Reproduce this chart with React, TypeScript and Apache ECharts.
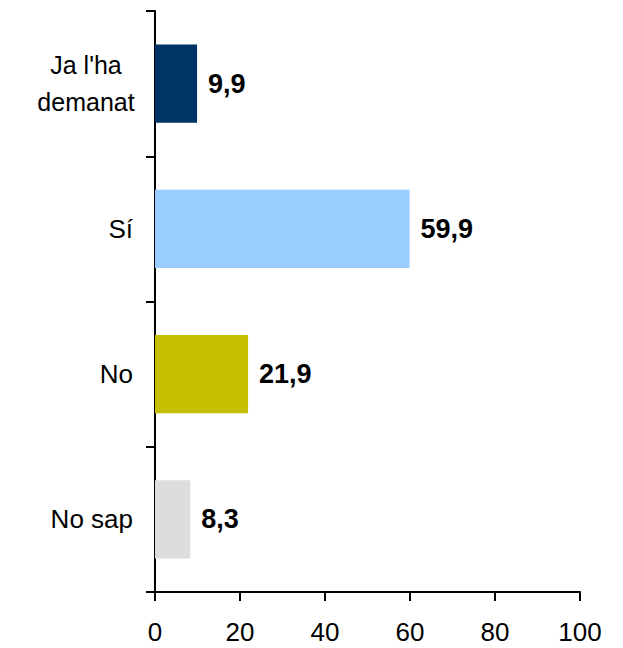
import React, { useEffect, useRef } from "react";
import * as echarts from "echarts";

const categories = ["Ja l'ha demanat", "Sí", "No", "No sap"];
const values = [9.9, 59.9, 21.9, 8.3];
const colors = ["#003366", "#99ccff", "#c4c000", "#dddddd"];
const xTicks = [0, 20, 40, 60, 80, 100];

export default function App() {
  const ref = useRef<HTMLDivElement>(null);
  useEffect(() => {
    document.body.style.margin = "0";
    const chart = echarts.init(ref.current!, null, { renderer: "svg" });
    const font = "'Liberation Sans', Arial, sans-serif";
    chart.setOption({
      animation: false,
      grid: { left: 155, right: 43, top: 11, bottom: 56, containLabel: false },
      xAxis: {
        type: "value",
        min: xTicks[0],
        max: xTicks[xTicks.length - 1],
        interval: 20,
        splitLine: { show: false },
        axisLine: { show: true, lineStyle: { color: "#000", width: 2 } },
        axisTick: { show: true, length: 9, lineStyle: { color: "#000", width: 2 } },
        axisLabel: { color: "#000", fontFamily: font, fontSize: 26, margin: 27 },
      },
      yAxis: {
        type: "category",
        inverse: true,
        data: categories,
        axisLine: { show: true, lineStyle: { color: "#000", width: 2 } },
        axisTick: { show: true, length: 9, lineStyle: { color: "#000", width: 2 } },
        axisLabel: {
          color: "#000",
          fontFamily: font,
          fontSize: 26,
          margin: 22,
          formatter: (v: string) =>
            v === "Ja l'ha demanat" ? "{a|Ja l'ha}\n{a|demanat}" : v,
          rich: {
            a: {
              width: 94,
              align: "center",
              fontSize: 25,
              fontFamily: font,
              color: "#000",
              lineHeight: 37,
            },
          },
        },
      },
      series: [
        {
          type: "bar",
          barWidth: "54%",
          data: values.map((v, i) => ({ value: v, itemStyle: { color: colors[i] } })),
          label: {
            show: true,
            position: "right",
            distance: 11,
            color: "#000",
            fontFamily: font,
            fontSize: 27,
            fontWeight: "bold",
            formatter: (p: any) => String(p.value).replace(".", ","),
          },
        },
      ],
    });
    return () => chart.dispose();
  }, []);
  return <div ref={ref} style={{ width: 623, height: 648 }} />;
}
